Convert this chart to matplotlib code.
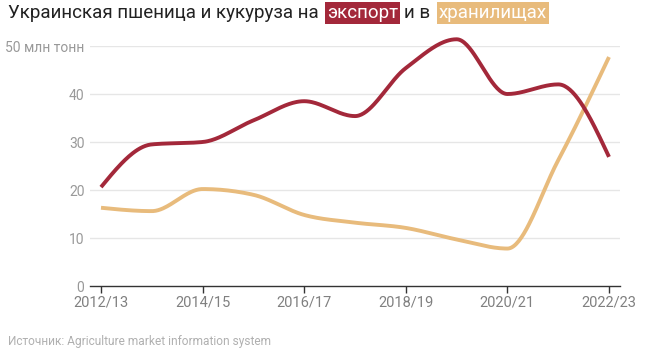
import numpy as np
import matplotlib
matplotlib.use("Agg")
import matplotlib.pyplot as plt

seasons = ["2012/13", "2013/14", "2014/15", "2015/16", "2016/17", "2017/18",
           "2018/19", "2019/20", "2020/21", "2021/22", "2022/23"]
tick_labels = ["2012/13", "2014/15", "2016/17", "2018/19", "2020/21", "2022/23"]
export_vals = [20.6, 29.5, 30.0, 34.5, 38.5, 35.4, 45.4, 51.4, 40.0, 42.0, 26.9]
storage_vals = [16.3, 15.6, 20.2, 19.0, 14.8, 13.2, 12.1, 9.7, 7.8, 26.2, 47.7]
yticks = [0, 10, 20, 30, 40, 50]

RED = "#a3283a"
TAN = "#e8bb7c"
GRID = "#e6e6e6"
LABEL = "#999999"

plt.rcParams['font.family'] = ['Roboto', 'DejaVu Sans']


def monotone(x, y, n=40):
    x = np.asarray(x, float); y = np.asarray(y, float)
    h = np.diff(x); s = np.diff(y) / h
    m = np.zeros_like(y)
    for i in range(1, len(y) - 1):
        if s[i - 1] * s[i] <= 0:
            m[i] = 0
        else:
            p = (s[i - 1] * h[i] + s[i] * h[i - 1]) / (h[i - 1] + h[i])
            m[i] = (np.sign(s[i - 1]) + np.sign(s[i])) * min(abs(s[i - 1]), abs(s[i]), 0.5 * abs(p))
    m[0] = (3 * s[0] - m[1]) / 2
    m[-1] = (3 * s[-1] - m[-2]) / 2
    xs, ys = [], []
    for i in range(len(h)):
        t = np.linspace(0, 1, n, endpoint=(i == len(h) - 1))
        h00 = 2 * t**3 - 3 * t**2 + 1
        h10 = t**3 - 2 * t**2 + t
        h01 = -2 * t**3 + 3 * t**2
        h11 = t**3 - t**2
        xs.append(x[i] + t * h[i])
        ys.append(h00 * y[i] + h10 * h[i] * m[i] + h01 * y[i + 1] + h11 * h[i] * m[i + 1])
    return np.concatenate(xs), np.concatenate(ys)


fig = plt.figure(figsize=(6.6, 3.53), dpi=100)
W, H = 660, 353
ax = fig.add_axes([90 / W, (H - 286) / H, 530 / W, 240 / H])

xi = np.arange(len(seasons))
pad = 11 / 50.8
ax.set_xlim(-pad, len(seasons) - 1 + pad)
ax.set_ylim(0, 50)

for v in yticks[1:]:
    ax.axhline(v, color=GRID, lw=1, zorder=0)

sx, sy = monotone(xi, storage_vals)
ax.plot(sx, sy, color=TAN, lw=2.8, solid_capstyle='butt', clip_on=False, zorder=3)
ex, ey = monotone(xi, export_vals)
ax.plot(ex, ey, color=RED, lw=2.8, solid_capstyle='butt', clip_on=False, zorder=4)

for sp in ["top", "right", "left"]:
    ax.spines[sp].set_visible(False)
ax.spines["bottom"].set_color("#333333")
ax.spines["bottom"].set_linewidth(1)

ax.set_yticks(yticks)
ax.set_yticklabels([str(v) for v in yticks[:-1]] + ["50 млн тонн"])
ax.tick_params(axis='y', length=0, pad=4, labelsize=10, labelcolor=LABEL)

tick_pos = [seasons.index(t) for t in tick_labels]
ax.set_xticks(tick_pos)
ax.set_xticklabels(tick_labels)
ax.tick_params(axis='x', length=5, width=1, color="#333333", pad=2,
               labelsize=10.5, labelcolor="#808080")

# Title with highlighted words
parts = [("Украинская пшеница и кукуруза на", None, 8),
         ("экспорт", RED, 6),
         ("и в", None, 9),
         ("хранилищах", TAN, 0)]
fig.canvas.draw()
r = fig.canvas.get_renderer()
x = 8
y = 1 - 18 / H
for txt, bg, gap in parts:
    kw = dict(fontsize=13.5, va='baseline', ha='left')
    if bg is None:
        t = fig.text(x / W, y, txt, color="#222222", **kw)
    else:
        t = fig.text(x / W, y, txt, color="white",
                     bbox=dict(boxstyle="square,pad=0.1", facecolor=bg, edgecolor='none'), **kw)
    bb = t.get_window_extent(renderer=r)
    x += bb.width + gap

fig.text(8 / W, 1 - 341 / H, "Источник: Agriculture market information system",
         fontsize=8.6, color="#b0b0b0", va='center', ha='left')

fig.savefig("out.png", dpi=100)
